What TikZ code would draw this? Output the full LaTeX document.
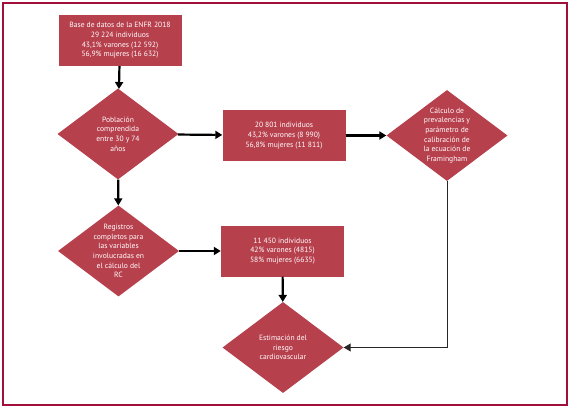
\documentclass[tikz,border=0pt]{standalone}
\usepackage{fontspec}
\setmainfont{PT Sans}
\usetikzlibrary{shapes.geometric,arrows.meta}
\definecolor{flowred}{RGB}{183,64,77}
\definecolor{framered}{RGB}{160,16,58}
\begin{document}
\begin{tikzpicture}[
    x=1pt, y=-1pt,
    box/.style={
        fill=flowred, text=white, font=\fontsize{7.6}{9.7}\selectfont,
        align=center, minimum width=123pt, minimum height=51pt, inner sep=0pt
    },
    dia/.style={
        diamond, fill=flowred, text=white, font=\fontsize{7.6}{9.7}\selectfont,
        align=center, minimum width=121pt, minimum height=91pt, inner sep=-10pt
    },
    flow/.style={line width=2.2pt, -{Triangle[length=7pt,width=8pt]}},
    back/.style={line width=1pt, draw=black!85, -{Triangle[length=7pt,width=8pt]}}
]
\useasboundingbox (0,0) rectangle (570,409);
\draw[framered, line width=2pt] (3,3) rectangle (567,405);

\node[box] (base) at (120,40.5)
    {Base de datos de la ENFR 2018\\29 224 individuos\\43,1\% varones (12 592)\\56,9\% mujeres (16 632)};
\node[dia] (pob) at (118,134) {Población\\comprendida\\entre 30 y 74\\años};
\node[box] (n20) at (284,135.5)
    {20 801 individuos\\43,2\% varones (8 990)\\56,8\% mujeres (11 811)};
\node[dia] (calc) at (447,135.5)
    {Cálculo de\\prevalencias y\\parámetro de\\calibración de\\la ecuación de\\Framingham};
\node[dia] (reg) at (118.5,251)
    {Registros\\completos para\\las variables\\involucradas en\\el cálculo del\\RC};
\node[box] (n11) at (282.5,251)
    {11 450 individuos\\42\% varones (4815)\\58\% mujeres (6635)};
\node[dia] (est) at (283,347.5) {Estimación del\\riesgo\\cardiovascular};

\draw[flow] (base) -- (pob);
\draw[flow] (pob) -- (n20);
\draw[flow] (n20) -- (calc);
\draw[flow] (pob) -- (reg);
\draw[flow] (reg) -- (n11);
\draw[flow] (n11) -- (est);
\draw[back] (calc.south) |- (est.east);
\end{tikzpicture}
\end{document}
